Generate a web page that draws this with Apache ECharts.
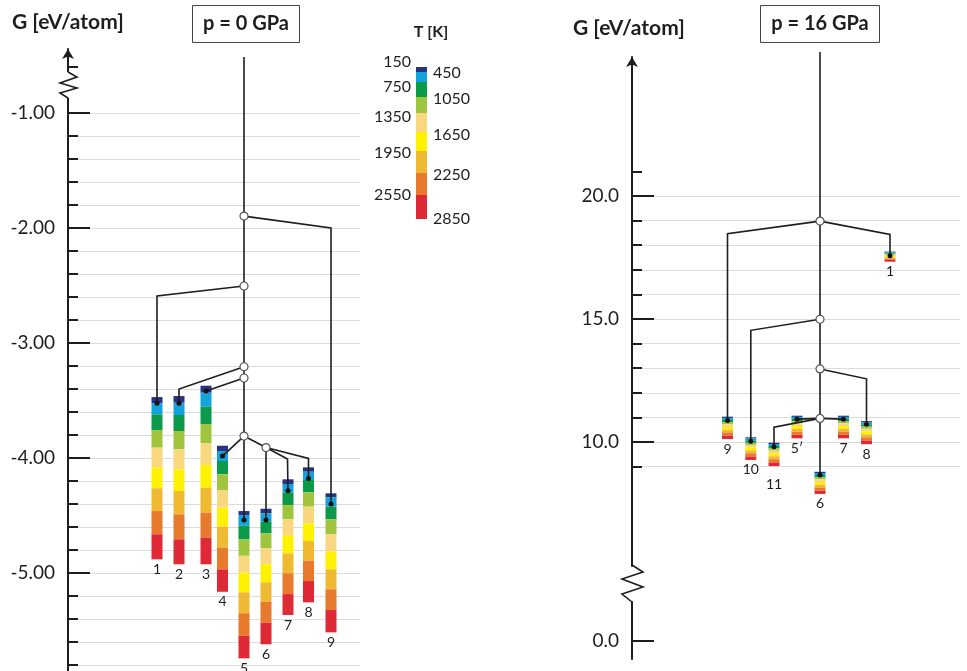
<!DOCTYPE html>
<html>
<head>
<meta charset="utf-8">
<script src="https://cdn.jsdelivr.net/npm/echarts@6/dist/echarts.min.js"></script>
<style>
  html, body { margin: 0; padding: 0; background: #fff; }
  #chart { width: 967px; height: 671px; }
</style>
</head>
<body>
<div id="chart"></div>
<script>
// ====== colour key: temperature steps [K] ======
var tempSteps = [150, 450, 750, 1050, 1350, 1650, 1950, 2250, 2550, 2850];
var tempColors = ['#2b3182', '#12a3dc', '#0b9a4a', '#9fc53e', '#f8d77f', '#fff200', '#f0b932', '#e87a2e', '#de2a36'];

// ====== p = 0 GPa ======
var leftNames = ['1', '2', '3', '4', '5', '6', '7', '8', '9'];
var leftX = [89, 111, 138, 154.5, 176, 198, 220, 240.5, 263];
var leftMinG = [-3.524, -3.524, -3.417, -3.983, -4.539, -4.539, -4.284, -4.177, -4.400];
// G at each temperature step (150 K ... 2850 K)
var leftBarsG = [
  [-3.470, -3.524, -3.620, -3.757, -3.910, -4.081, -4.263, -4.461, -4.663, -4.881],
  [-3.461, -3.519, -3.626, -3.765, -3.924, -4.098, -4.287, -4.490, -4.707, -4.924],
  [-3.371, -3.432, -3.554, -3.704, -3.872, -4.061, -4.258, -4.476, -4.693, -4.924],
  [-3.893, -3.939, -4.026, -4.142, -4.278, -4.432, -4.597, -4.780, -4.968, -5.163],
  [-4.461, -4.496, -4.589, -4.707, -4.850, -4.997, -5.168, -5.350, -5.545, -5.742],
  [-4.441, -4.481, -4.554, -4.655, -4.785, -4.924, -5.081, -5.250, -5.432, -5.620],
  [-4.185, -4.226, -4.298, -4.409, -4.533, -4.676, -4.829, -5.003, -5.183, -5.365],
  [-4.081, -4.119, -4.191, -4.298, -4.423, -4.568, -4.722, -4.893, -5.070, -5.255],
  [-4.307, -4.342, -4.423, -4.533, -4.663, -4.815, -4.968, -5.142, -5.322, -5.516]
];
var leftNodes = [[176, -1.896], [176, -2.504], [176, -3.206], [176, -3.304], [176, -3.809], [198, -3.909]];
var leftEdges = [
  [[176, -0.513], [176, -4.539]],
  [[176, -1.896], [263, -2.000], [263, -4.400]],
  [[176, -2.504], [89, -2.591], [89, -3.524]],
  [[176, -3.206], [111, -3.400], [111, -3.524]],
  [[176, -3.304], [138, -3.417]],
  [[176, -3.809], [154.5, -3.983]],
  [[176, -3.809], [198, -3.909], [198, -4.539]],
  [[198, -3.909], [219.5, -4.009], [220, -4.284]],
  [[198, -3.909], [240.5, -4.004], [240.5, -4.177]]
];
var leftMinorTicks = [-5.8, -5.6, -5.4, -5.2, -5, -4.8, -4.6, -4.4, -4.2, -4, -3.8, -3.6, -3.4, -3.2, -3,
  -2.8, -2.6, -2.4, -2.2, -2, -1.8, -1.6, -1.4, -1.2, -1, -0.6];
var leftGridTicks = [-5.8, -5.6, -5.4, -5.2, -5, -4.8, -4.6, -4.4, -4.2, -4, -3.8, -3.6, -3.4, -3.2, -3,
  -2.8, -2.6, -2.4, -2.2, -2, -1.8, -1.6, -1.4, -1.2, -1];
var leftMajorTicks = [-5, -4, -3, -2, -1];

// ====== p = 16 GPa ======
var rightNames = ['9', '10', '11', '5\u2032', '6', '7', '8', '1'];
var rightX = [95.5, 118.8, 142, 165, 188, 211.5, 234.5, 258];
var rightMinG = [10.87, 10.03, 9.81, 10.93, 8.66, 10.93, 10.72, 17.57];
var rightBarsG = [
  [11.03, 10.98, 10.90, 10.81, 10.72, 10.61, 10.50, 10.39, 10.26, 10.12],
  [10.19, 10.14, 10.06, 9.97, 9.88, 9.77, 9.66, 9.54, 9.41, 9.27],
  [9.97, 9.92, 9.84, 9.75, 9.65, 9.54, 9.42, 9.30, 9.17, 9.02],
  [11.07, 11.02, 10.94, 10.85, 10.76, 10.65, 10.54, 10.42, 10.29, 10.15],
  [8.79, 8.74, 8.66, 8.57, 8.48, 8.37, 8.26, 8.15, 8.02, 7.89],
  [11.07, 11.02, 10.94, 10.85, 10.76, 10.65, 10.54, 10.42, 10.29, 10.15],
  [10.85, 10.80, 10.72, 10.63, 10.54, 10.43, 10.31, 10.19, 10.06, 9.91],
  [17.74, 17.72, 17.69, 17.65, 17.61, 17.56, 17.51, 17.46, 17.40, 17.33]
];
var rightNodes = [[188, 18.98], [188, 14.99], [188, 12.97], [188, 10.96]];
var rightEdges = [
  [[188, 25.85], [188, 8.66]],
  [[188, 18.98], [95.5, 18.47], [95.5, 10.87]],
  [[188, 18.98], [258, 18.44], [258, 17.57]],
  [[188, 14.99], [118.8, 14.54], [118.8, 10.03]],
  [[188, 12.97], [234.5, 12.57], [234.5, 10.72]],
  [[188, 10.96], [165, 10.93]],
  [[188, 10.96], [142, 10.60], [142, 9.81]],
  [[188, 10.96], [211.5, 10.93]]
];
var rightMinorTicks = [9, 10, 11, 12, 13, 14, 15, 16, 17, 18, 19, 20, 21];
var rightGridTicks = [9, 10, 11, 12, 13, 14, 15, 16, 17, 18, 19, 20];
var rightMajorTicks = [10, 15, 20];
var lowerTicks = [0];

// ====== drawing ======
var ink = '#1e1e1e';
var gridColor = '#dcdcdc';
var font = 'Lato, "Open Sans", sans-serif';
var chart = echarts.init(document.getElementById('chart'));

function barData(xs, bars) {
  return xs.map(function (x, i) { return [x].concat(bars[i]); });
}
function pointData(xs, gs) {
  return xs.map(function (x, i) { return [x, gs[i]]; });
}
function bottomData(xs, bars) {
  return xs.map(function (x, i) { return [x, bars[i][bars[i].length - 1]]; });
}

function renderBar(params, api) {
  var x = api.value(0);
  var rects = [];
  for (var k = 0; k < tempColors.length; k++) {
    var a = api.coord([x, api.value(k + 1)]);
    var b = api.coord([x, api.value(k + 2)]);
    rects.push({ type: 'rect', shape: { x: a[0] - 5.5, y: a[1], width: 11, height: b[1] - a[1] },
      style: { fill: tempColors[k] } });
  }
  return { type: 'group', children: rects };
}

function labelRenderer(names) {
  return function (params, api) {
    var p = api.coord([api.value(0), api.value(1)]);
    var name = names[params.dataIndex];
    var gap = name === '11' ? 11 : 3;
    return { type: 'text', x: p[0], y: p[1] + gap,
      style: { text: name, fill: ink, font: '14px ' + font, align: 'center', verticalAlign: 'top' } };
  };
}

function panelSeries(xi, yi, names, xs, minG, bars, nodes, edges) {
  return [
    { type: 'custom', xAxisIndex: xi, yAxisIndex: yi, data: barData(xs, bars), renderItem: renderBar,
      encode: { x: 0, y: 1 }, silent: true, z: 2 },
    { type: 'lines', coordinateSystem: 'cartesian2d', xAxisIndex: xi, yAxisIndex: yi, polyline: true, clip: false,
      data: edges.map(function (c) { return { coords: c }; }),
      lineStyle: { color: ink, width: 1.6, opacity: 1 }, silent: true, z: 3 },
    { type: 'scatter', xAxisIndex: xi, yAxisIndex: yi, data: nodes, symbolSize: 8,
      itemStyle: { color: '#fff', borderColor: '#555', borderWidth: 1.2, opacity: 1 }, silent: true, z: 4 },
    { type: 'scatter', xAxisIndex: xi, yAxisIndex: yi, data: pointData(xs, minG), symbolSize: 5,
      itemStyle: { color: '#111', opacity: 1 }, silent: true, z: 5 },
    { type: 'custom', xAxisIndex: xi, yAxisIndex: yi, data: bottomData(xs, bars), renderItem: labelRenderer(names),
      encode: { x: 0, y: 1 }, silent: true, z: 5 }
  ];
}

function lineAxis(gi, min, max, ticks, arrow) {
  return { type: 'value', gridIndex: gi, position: 'left', min: min, max: max,
    axisLine: { show: true, symbol: arrow ? ['none', 'arrow'] : 'none', symbolSize: [9, 10],
      lineStyle: { color: ink, width: 2 } },
    axisTick: { show: true, inside: true, length: 10, customValues: ticks, lineStyle: { color: ink, width: 2 } },
    axisLabel: { show: false }, splitLine: { show: false } };
}
function majorAxis(gi, min, max, ticks, digits) {
  return { type: 'value', gridIndex: gi, position: 'left', min: min, max: max,
    axisLine: { show: false },
    axisTick: { show: true, inside: true, length: 22, customValues: ticks, lineStyle: { color: ink, width: 2 } },
    axisLabel: { show: true, customValues: ticks, margin: 13, color: ink, fontSize: 19, fontFamily: font,
      formatter: function (v) { return v.toFixed(digits); } },
    splitLine: { show: false } };
}
function gridAxis(gi, min, max, ticks) {
  return { type: 'value', gridIndex: gi, position: 'left', min: min, max: max,
    axisLine: { show: false },
    axisTick: { show: false, customValues: ticks },
    axisLabel: { show: false },
    splitLine: { show: true, lineStyle: { color: gridColor, width: 1 } } };
}

var legendStops = [67, 72, 82, 97, 113, 132, 151, 173, 195, 219];
var legendLabelY = [62, 73, 87, 99, 117, 135, 153, 175, 195, 219];

var graphics = [
  { type: 'text', x: 12, y: 22, style: { text: 'G [eV/atom]', font: 'bold 21px ' + font, fill: ink, verticalAlign: 'middle' } },
  { type: 'text', x: 573, y: 28, style: { text: 'G [eV/atom]', font: 'bold 21px ' + font, fill: ink, verticalAlign: 'middle' } },
  { type: 'rect', shape: { x: 192.5, y: 5.5, width: 107, height: 37 }, style: { fill: '#fff', stroke: '#444', lineWidth: 1 } },
  { type: 'text', x: 246, y: 24, style: { text: 'p = 0 GPa', font: 'bold 20px ' + font, fill: ink, align: 'center', verticalAlign: 'middle' } },
  { type: 'rect', shape: { x: 760.5, y: 5.5, width: 119, height: 37 }, style: { fill: '#fff', stroke: '#444', lineWidth: 1 } },
  { type: 'text', x: 820, y: 24, style: { text: 'p = 16 GPa', font: 'bold 20px ' + font, fill: ink, align: 'center', verticalAlign: 'middle' } },
  { type: 'text', x: 431, y: 32, style: { text: 'T [K]', font: 'bold 16px ' + font, fill: ink, align: 'center', verticalAlign: 'middle' } },
  // axis breaks
  { type: 'rect', z: 100, shape: { x: 64, y: 72, width: 8, height: 26 }, style: { fill: '#fff' } },
  { type: 'polyline', z: 101, shape: { points: [[68, 72], [77, 77], [60, 83], [77, 88], [60, 93], [68, 98]] },
    style: { stroke: ink, lineWidth: 1.6, fill: null } },
  { type: 'polyline', z: 101, shape: { points: [[632, 565], [643, 572], [622, 579], [643, 587], [622, 594], [632, 602]] },
    style: { stroke: ink, lineWidth: 1.6, fill: null } }
];
for (var k = 0; k < tempColors.length; k++) {
  graphics.push({ type: 'rect', shape: { x: 416, y: legendStops[k], width: 11, height: legendStops[k + 1] - legendStops[k] },
    style: { fill: tempColors[k] } });
}
tempSteps.forEach(function (t, i) {
  var left = i % 2 === 0;
  graphics.push({ type: 'text', x: left ? 411 : 433, y: legendLabelY[i],
    style: { text: String(t), font: '16px ' + font, fill: ink, align: left ? 'right' : 'left', verticalAlign: 'middle' } });
});

chart.setOption({
  animation: false,
  grid: [
    { left: 68, top: 49, width: 292, height: 622 },
    { left: 632, top: 57, width: 328, height: 509 },
    { left: 632, top: 602, width: 328, height: 57 }
  ],
  xAxis: [
    { type: 'value', gridIndex: 0, min: 0, max: 292, show: false },
    { type: 'value', gridIndex: 1, min: 0, max: 328, show: false },
    { type: 'value', gridIndex: 2, min: 0, max: 328, show: false }
  ],
  yAxis: [
    lineAxis(0, -5.852, -0.443, leftMinorTicks, true),
    majorAxis(0, -5.852, -0.443, leftMajorTicks, 2),
    gridAxis(0, -5.852, -0.443, leftGridTicks),
    lineAxis(1, 4.96, 25.65, rightMinorTicks, true),
    majorAxis(1, 4.96, 25.65, rightMajorTicks, 1),
    gridAxis(1, 4.96, 25.65, rightGridTicks),
    lineAxis(2, -0.732, 1.585, lowerTicks, false),
    majorAxis(2, -0.732, 1.585, lowerTicks, 1)
  ],
  graphic: graphics,
  series: panelSeries(0, 0, leftNames, leftX, leftMinG, leftBarsG, leftNodes, leftEdges)
    .concat(panelSeries(1, 3, rightNames, rightX, rightMinG, rightBarsG, rightNodes, rightEdges))
});

window.addEventListener('resize', function () { chart.resize(); });
</script>
</body>
</html>
